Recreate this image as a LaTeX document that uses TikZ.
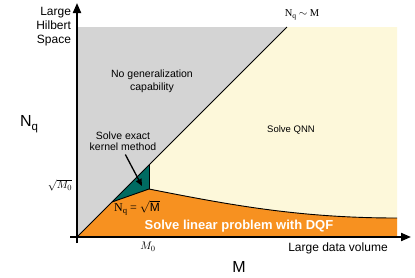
\documentclass[tikz,border=0pt]{standalone}
\usepackage{fontspec}
\setmainfont{Liberation Sans}
\newfontfamily\timesfont{Liberation Serif}
\usetikzlibrary{arrows.meta}
\definecolor{hilbertgray}{RGB}{212,212,212}
\definecolor{qnncream}{RGB}{253,248,218}
\definecolor{dqforange}{RGB}{247,145,32}
\definecolor{kernelteal}{RGB}{0,107,98}
\newcommand{\lowq}{\raisebox{-0.4ex}{\scalebox{0.72}{q}}}

\begin{document}
\begin{tikzpicture}[x=1pt,y=-1pt,
  lbl/.style={inner sep=0pt,outer sep=0pt,align=center},
  axis/.style={line width=2pt,-{Triangle[length=10pt,width=8pt]}},
  edge/.style={line width=0.9pt,draw=black},
  pointer/.style={line width=1.3pt,-{Triangle[length=7pt,width=6pt]}}]
\path[use as bounding box] (0,0) rectangle (415,277);
\path[fill=white,draw=none] (0,0) rectangle (415,277);
% key points
\coordinate (origin) at (77,237);
\coordinate (diagtop) at (287,27);
\coordinate (lowtip) at (112,202);
\coordinate (tealtop) at (149,165);
\coordinate (tealfoot) at (149,189);
\coordinate (curveend) at (397,218);
\coordinate (tealpt) at (142,186);
% regions
\fill[qnncream] (diagtop) -- (397,27) -- (397,237) -- (origin) -- cycle;
\fill[hilbertgray] (77,27) -- (diagtop) -- (origin) -- cycle;
\fill[dqforange] (origin) -- (lowtip) -- (tealfoot) .. controls (230,205) and (300,218) .. (curveend) -- (397,237) -- cycle;
\fill[kernelteal] (lowtip) -- (tealtop) -- (tealfoot) -- cycle;
% boundaries
\draw[edge] (origin) -- (diagtop);
\draw[edge] (lowtip) -- (tealfoot) .. controls (230,205) and (300,218) .. (curveend);
\draw[edge] (tealtop) -- (tealfoot);
% axes
\draw[axis] (77,243) -- (77,3);
\draw[axis] (70,237) -- (411,237);
% labels
\node[lbl,anchor=east,align=right,font=\fontsize{12}{14}\selectfont] (hilbert) at (71,27) {Large\\Hilbert\\Space};
\node[lbl,font=\fontsize{16}{18}\selectfont] (nqlabel) at (29,124) {N\lowq};
\node[lbl,font=\fontsize{10.5}{13}\selectfont] (nogen) at (152,81) {No generalization\\capability};
\node[lbl,font=\fontsize{10.5}{10.5}\selectfont] (kernel) at (123,141) {Solve exact\\kernel method};
\node[lbl,font=\fontsize{9.5}{11}\selectfont] (qnn) at (291,130) {Solve QNN};
\node[lbl,font=\bfseries\fontsize{13}{15}\selectfont,text=white] (dqf) at (239,226) {Solve linear problem with DQF};
\node[lbl,font=\fontsize{12}{14}\selectfont] (datavol) at (338,248) {Large data volume};
\node[lbl,font=\fontsize{16}{18}\selectfont] (mlabel) at (239,267) {M};
\node[lbl,font=\timesfont\fontsize{10.5}{12}\selectfont] (nqlin) at (302,15) {N\lowq{} $\sim$ M};
\node[lbl,font=\timesfont\fontsize{12}{14}\selectfont] (nqsqrt) at (137,208) {N\lowq{} = $\sqrt{\mathrm{M}}$};
\node[lbl,font=\fontsize{11}{13}\selectfont] (sqrtm) at (60,185) {$\sqrt{M_0}$};
\node[lbl,font=\fontsize{11}{13}\selectfont] (mzero) at (148,247) {$M_0$};
\draw[pointer,shorten <=5pt] (kernel.south) -- (tealpt);
\end{tikzpicture}
\end{document}
